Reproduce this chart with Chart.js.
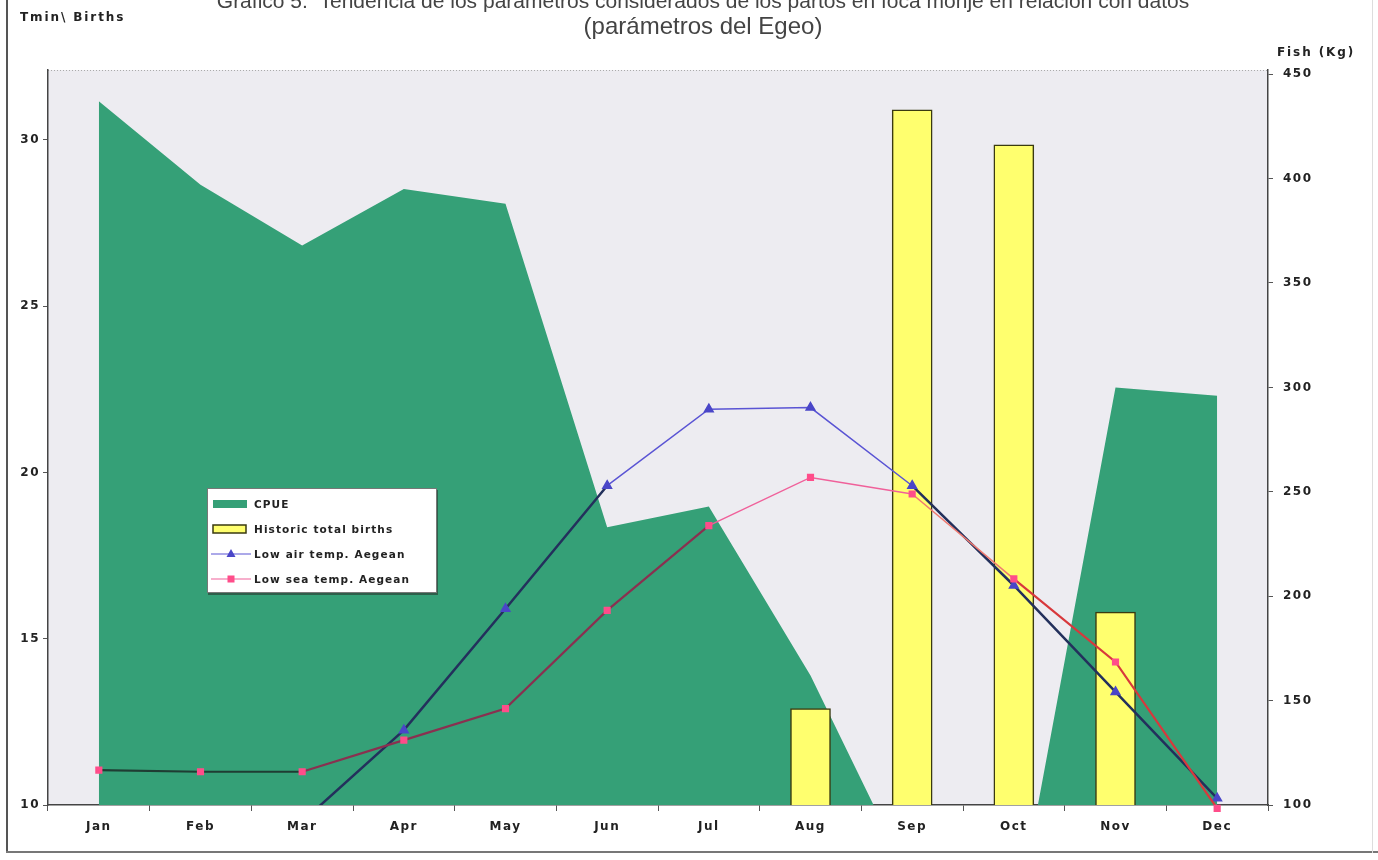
<!DOCTYPE html>
<html>
<head>
<meta charset="utf-8">
<script src="https://cdn.jsdelivr.net/npm/chart.js@4.4.1/dist/chart.umd.min.js"></script>
<style>
    body { margin: 0; width: 1378px; height: 860px; overflow: hidden; background: #fff; position: relative; font-family: "DejaVu Sans", sans-serif; }
    #wrap { position: absolute; left: 0; top: 0; width: 1378px; height: 860px; }
    .frame-l { position: absolute; left: 6px; top: 0; width: 2px; height: 853px; background: #555; }
    .frame-b { position: absolute; left: 6px; top: 851px; width: 1372px; height: 2px; background: #777; }
    .frame-r { position: absolute; left: 1372px; top: 0; width: 1px; height: 853px; background: #ddd; }
    .title { position: absolute; left: 0; width: 1406px; text-align: center; font-family: "Liberation Sans", Arial, sans-serif; font-size: 21px; line-height: 21px; color: #444; white-space: nowrap; }
    .axis-title { position: absolute; font-weight: bold; font-size: 12px; letter-spacing: 1.9px; color: #222; white-space: nowrap; }
    #legend { position: absolute; left: 207px; top: 488px; width: 228px; height: 103px; background: #fff; border: 1px solid #777; box-shadow: 1px 2px 0 #2d5f4a; }
    #legend .row { height: 25px; display: flex; align-items: center; padding-left: 3px; }
    #legend .row:first-child { margin-top: 2px; }
    #legend canvas { margin-right: 3px; }
    #legend span { font-weight: bold; font-size: 10.5px; letter-spacing: 1.1px; color: #222; white-space: nowrap; }
</style>
</head>
<body>
<div id="wrap"><canvas id="fishChart" width="1378" height="860"></canvas></div>
<div class="frame-l"></div>
<div class="frame-b"></div>
<div class="frame-r"></div>
<div class="title" style="top:-10px;">Gráfico 5.&nbsp;&nbsp;Tendencia de los parámetros considerados de los partos en foca monje en relación con datos</div>
<div class="title" style="top:14px; font-size:24px; line-height:24px;">(parámetros del Egeo)</div>
<div class="axis-title" style="left:20px; top:10px;">Tmin\ Births</div>
<div class="axis-title" style="left:1277px; top:45px;">Fish (Kg)</div>
<div id="legend"></div>
<script>
// values
var months = ['Jan', 'Feb', 'Mar', 'Apr', 'May', 'Jun', 'Jul', 'Aug', 'Sep', 'Oct', 'Nov', 'Dec'];
var cpue = [437, 397, 368, 395, 388, 233, 243, 162, 62, 38, 300, 296];
var births = [null, null, null, null, null, null, null, 12.9, 30.9, 29.85, 15.8, null];
var airTemp = [8.8, 9.0, 9.5, 12.25, 15.9, 19.6, 21.9, 21.95, 19.6, 16.6, 13.4, 10.2];
var seaTemp = [11.05, 11.0, 11.0, 11.95, 12.9, 15.85, 18.4, 19.85, 19.35, 16.8, 14.3, 9.9];
var leftTicks = [10, 15, 20, 25, 30];
var rightTicks = [100, 150, 200, 250, 300, 350, 400, 450];

var tickFont = { family: 'DejaVu Sans', size: 12, weight: 'bold' };

// the scan darkens the lines where they cross the green area
function airColor(ctx) {
    var i = ctx.p0DataIndex;
    if (i >= 5 && i <= 7) return '#5a54d4';
    return '#23305c';
}
function airWidth(ctx) {
    var i = ctx.p0DataIndex;
    return (i >= 5 && i <= 7) ? 1.5 : 2.5;
}
function seaColor(ctx) {
    var i = ctx.p0DataIndex;
    if (i <= 1) return '#1f3d33';
    if (i <= 5) return '#8a3050';
    if (i <= 7) return '#f0609a';
    if (i == 8) return '#f07a70';
    return '#d8383c';
}
function seaWidth(ctx) {
    var i = ctx.p0DataIndex;
    return (i >= 6 && i <= 8) ? 1.5 : 2.2;
}

var plotBg = {
    id: 'plotBg',
    beforeDraw: function(chart) {
        var a = chart.chartArea, c = chart.ctx;
        c.save();
        c.fillStyle = '#edecf1';
        c.fillRect(a.left, a.top, a.right - a.left, a.bottom - a.top);
        c.setLineDash([1, 2]);
        c.strokeStyle = '#aaa';
        c.lineWidth = 1;
        c.beginPath();
        c.moveTo(a.left, a.top + 0.5);
        c.lineTo(a.right, a.top + 0.5);
        c.stroke();
        c.restore();
        c.letterSpacing = '1.5px';
    }
};

var chart = new Chart(document.getElementById('fishChart'), {
    data: {
        labels: months,
        datasets: [
            {
                type: 'line',
                label: 'CPUE',
                data: cpue,
                yAxisID: 'y1',
                borderWidth: 0,
                pointRadius: 0,
                backgroundColor: '#35a077',
                fill: 'start',
                order: 4
            },
            {
                type: 'bar',
                label: 'Historic total births',
                data: births,
                yAxisID: 'y',
                backgroundColor: '#ffff6e',
                borderColor: '#3a3a10',
                borderWidth: 1.5,
                barThickness: 40,
                order: 3
            },
            {
                type: 'line',
                label: 'Low  air temp. Aegean',
                data: airTemp,
                yAxisID: 'y',
                borderColor: '#5a54d4',
                backgroundColor: '#4a46c8',
                borderWidth: 1.5,
                pointStyle: 'triangle',
                pointRadius: 5,
                pointBorderColor: '#4a46c8',
                segment: { borderColor: airColor, borderWidth: airWidth },
                fill: false,
                order: 2
            },
            {
                type: 'line',
                label: 'Low sea temp. Aegean',
                data: seaTemp,
                yAxisID: 'y',
                borderColor: '#f0609a',
                backgroundColor: '#ff4d8a',
                borderWidth: 1.5,
                pointStyle: 'rect',
                pointRadius: 4,
                pointBorderColor: '#ff4d8a',
                segment: { borderColor: seaColor, borderWidth: seaWidth },
                fill: false,
                clip: false,
                order: 1
            }
        ]
    },
    options: {
        responsive: false,
        animation: false,
        layout: { padding: { top: 70, left: 0, right: 0, bottom: 0 } },
        plugins: {
            legend: { display: false },
            title: { display: false },
            tooltip: { enabled: false }
        },
        scales: {
            x: {
                offset: true,
                grid: { display: true, drawOnChartArea: false, offset: true, tickLength: 6, color: '#555' },
                border: { color: '#444', width: 1.5 },
                ticks: { font: tickFont, color: '#222', padding: 9, maxRotation: 0 },
                afterFit: function(s) { s.height = 55; }
            },
            y: {
                position: 'left',
                min: 10,
                max: 32.1,
                afterBuildTicks: function(s) { s.ticks = leftTicks.map(function(v) { return { value: v }; }); },
                grid: { drawOnChartArea: false, tickLength: 5, color: '#555' },
                border: { color: '#444', width: 1.5 },
                ticks: { font: tickFont, color: '#222', padding: 3 },
                afterFit: function(s) { s.width = 48; }
            },
            y1: {
                position: 'right',
                min: 100,
                max: 452,
                afterBuildTicks: function(s) { s.ticks = rightTicks.map(function(v) { return { value: v }; }); },
                grid: { drawOnChartArea: false, tickLength: 5, color: '#555' },
                border: { color: '#444', width: 1.5 },
                ticks: { font: tickFont, color: '#222', padding: 10 },
                afterFit: function(s) { s.width = 110; }
            }
        }
    },
    plugins: [plotBg]
});

// legend box drawn inside the plot like in the original
var legendBox = document.getElementById('legend');
[0, 1, 2, 3].forEach(function(i) {
    var ds = chart.data.datasets[i];
    var row = document.createElement('div');
    row.className = 'row';
    var sw = document.createElement('canvas');
    sw.width = 40; sw.height = 14;
    var g = sw.getContext('2d');
    if (ds.type == 'bar') {
        g.fillStyle = ds.backgroundColor;
        g.fillRect(2, 3, 33, 8);
        g.strokeStyle = ds.borderColor;
        g.lineWidth = 1.5;
        g.strokeRect(2, 3, 33, 8);
    } else if (ds.fill) {
        g.fillStyle = ds.backgroundColor;
        g.fillRect(2, 3, 34, 8);
    } else {
        g.strokeStyle = ds.borderColor;
        g.lineWidth = 1.2;
        g.beginPath(); g.moveTo(0, 7); g.lineTo(40, 7); g.stroke();
        g.fillStyle = ds.backgroundColor;
        if (ds.pointStyle == 'triangle') {
            g.beginPath(); g.moveTo(20, 2); g.lineTo(24.5, 10); g.lineTo(15.5, 10); g.closePath(); g.fill();
        } else {
            g.fillRect(16.5, 3.5, 7, 7);
        }
    }
    var tx = document.createElement('span');
    tx.textContent = ds.label;
    row.appendChild(sw);
    row.appendChild(tx);
    legendBox.appendChild(row);
});
</script>
</body>
</html>
